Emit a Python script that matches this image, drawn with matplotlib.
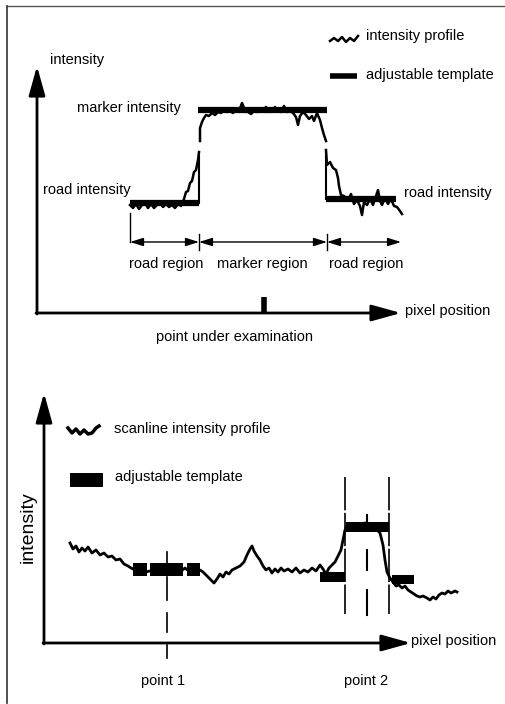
import matplotlib.pyplot as plt

plt.rcParams['font.family'] = ['Liberation Sans', 'DejaVu Sans']

# -----------------------
# Data (pixel coords, y grows downward)
# -----------------------
# top panel: intensity profile, split in three pieces
top_road_l_x = [130, 133, 136, 139, 142, 145, 148, 151, 154, 157, 160, 163, 166, 169, 172, 175, 178, 181, 184, 186, 188, 190, 192, 194, 196, 198, 199]
top_road_l_y = [205, 208, 204, 209, 205, 203, 208, 204, 208, 205, 203, 207, 204, 207, 205, 208, 204, 206, 199, 192, 191, 183, 181, 172, 170, 160, 152]
top_marker_x = [200, 200, 202, 204, 206, 209, 212, 215, 218, 221, 224, 227, 230, 233, 236, 239, 242, 245, 248, 251, 254, 257, 260, 263, 266, 269, 272, 275, 278, 281, 284, 287, 290, 293, 296, 298, 300, 303, 306, 309, 312, 314, 317, 320, 322, 324, 326]
top_marker_y = [141, 128, 122, 118, 115, 116, 113, 115, 112, 113, 110, 112, 111, 113, 110, 111, 103, 110, 112, 114, 111, 112, 110, 111, 107, 112, 111, 107, 111, 112, 106, 112, 111, 113, 117, 125, 116, 112, 115, 119, 116, 121, 113, 120, 128, 135, 141]
top_road_r_x = [326, 327, 330, 333, 336, 338, 339, 341, 344, 348, 351, 354, 357, 360, 362, 364, 367, 370, 373, 376, 378, 380, 382, 385, 388, 391, 394, 397, 400, 402]
top_road_r_y = [150, 165, 162, 168, 170, 178, 186, 195, 196, 200, 194, 204, 200, 206, 215, 202, 205, 199, 205, 196, 190, 201, 205, 198, 204, 199, 206, 207, 211, 214]

# top panel: adjustable template (x start, x end, level)
top_tpl_x0 = [130, 198, 326]
top_tpl_x1 = [199, 327, 396]
top_tpl_y = [203, 110, 199]

# bottom panel: scanline intensity profile
bot_x = [70, 73, 76, 79, 82, 85, 88, 92, 96, 100, 104, 108, 112, 116, 120, 124, 128, 131, 135, 140, 145, 150, 155, 160, 165, 170, 175, 180, 185, 190, 195, 200,
         203, 207, 211, 214, 217, 220, 223, 226, 229, 232, 236, 240, 244, 247, 250, 252, 254, 257, 260, 263, 266, 269, 272, 275, 278, 281, 284, 288,
         292, 296, 300, 304, 308, 312, 316, 320, 323, 326, 329, 332, 335, 338, 341, 343, 345, 347, 350, 355, 360, 365, 370, 375, 378, 380, 383, 385,
         387, 390, 393, 396, 399, 402, 405, 408, 411, 414, 417, 420, 423, 427, 430, 433, 436, 439, 442, 445, 448, 451, 455, 457]
bot_y = [543, 549, 546, 552, 548, 551, 547, 553, 550, 555, 553, 557, 556, 560, 559, 564, 566, 568, 570, 569, 572, 571, 568, 570, 567, 571, 569, 572, 568, 572, 569, 570,
         572, 576, 580, 583, 579, 574, 577, 572, 574, 570, 568, 566, 562, 555, 549, 546, 551, 556, 560, 566, 570, 568, 573, 569, 572, 568, 571, 569,
         572, 568, 573, 570, 572, 568, 571, 565, 569, 574, 568, 565, 562, 556, 550, 540, 530, 526, 524, 525, 524, 523, 525, 527, 531, 533, 545, 560,
         572, 578, 582, 586, 585, 588, 586, 590, 592, 594, 596, 597, 596, 598, 600, 597, 599, 595, 593, 594, 591, 593, 591, 592]

# bottom panel: template blocks (x start, x end, top, bottom)
bot_tpl_x0 = [133, 150, 187, 320, 346, 392]
bot_tpl_x1 = [147, 183, 200, 345, 389, 414]
bot_tpl_y0 = [563, 563, 563, 572, 522, 575]
bot_tpl_y1 = [576, 576, 576, 582, 532, 584]

fig = plt.figure(figsize=(5.05, 7.04), dpi=100)
ax = fig.add_axes([0, 0, 1, 1])
ax.set_xlim(0, 505)
ax.set_ylim(704, 0)
ax.axis('off')

fs = 10.5
arrow = dict(arrowstyle='-|>,head_length=1.8,head_width=0.5', lw=2, color='black', shrinkA=0, shrinkB=0)

# page border
ax.plot([7, 505], [6, 6], color='#555555', lw=1)
ax.plot([7, 7], [6, 703], color='#333333', lw=1.2)

# -----------------------
# top panel
# -----------------------
ax.annotate('', xy=(37, 66), xytext=(37, 314), arrowprops=arrow)
ax.annotate('', xy=(401, 313), xytext=(36, 313), arrowprops=arrow)
ax.text(50, 60, 'intensity', fontsize=fs, va='center')
ax.text(405, 311, 'pixel position', fontsize=fs, va='center')

for x0, x1, y in zip(top_tpl_x0, top_tpl_x1, top_tpl_y):
    ax.plot([x0, x1], [y, y], color='black', lw=4.5, solid_capstyle='butt')
ax.plot([199, 199], [top_tpl_y[0], 153], color='black', lw=1.5)
ax.plot([326, 326], [152, top_tpl_y[2]], color='black', lw=1.5)

ax.plot(top_road_l_x, top_road_l_y, color='black', lw=1.8)
ax.plot(top_marker_x, top_marker_y, color='black', lw=1.8)
ax.plot(top_road_r_x, top_road_r_y, color='black', lw=1.8)

ax.text(77, 108, 'marker intensity', fontsize=fs, va='center')
ax.text(43, 190, 'road intensity', fontsize=fs, va='center')
ax.text(404, 193, 'road intensity', fontsize=fs, va='center')

# region arrows
ax.plot([130, 130], [213, 242], color='black', lw=1)
dbl = dict(arrowstyle='<|-|>,head_length=0.8,head_width=0.25', lw=1, color='black', shrinkA=0, shrinkB=0)
for a, b in [(130, 199), (199, 327), (327, 401)]:
    ax.annotate('', xy=(b, 242), xytext=(a, 242), arrowprops=dbl)
ax.plot([199, 199], [234, 250], color='black', lw=1)
ax.plot([327, 327], [234, 250], color='black', lw=1)
ax.text(166, 264, 'road region', fontsize=fs, ha='center', va='center')
ax.text(262, 264, 'marker region', fontsize=fs, ha='center', va='center')
ax.text(366, 264, 'road region', fontsize=fs, ha='center', va='center')

ax.plot([264, 264], [297, 313], color='black', lw=4, solid_capstyle='butt')
ax.text(235, 337, 'point under examination', fontsize=fs, ha='center', va='center')

# legend top
ax.plot([330, 334, 338, 342, 346, 350, 354, 358], [41, 38, 41, 37, 42, 38, 41, 36], color='black', lw=1.8)
ax.text(366, 36, 'intensity profile', fontsize=fs, va='center')
ax.plot([330, 357], [76, 76], color='black', lw=4, solid_capstyle='butt')
ax.text(366, 75, 'adjustable template', fontsize=fs, va='center')

# -----------------------
# bottom panel
# -----------------------
ax.annotate('', xy=(44, 393), xytext=(44, 644), arrowprops=arrow)
ax.annotate('', xy=(411, 643), xytext=(43, 643), arrowprops=arrow)
ax.text(411, 641, 'pixel position', fontsize=fs, va='center')
ax.text(28, 527, 'intensity', fontsize=14, rotation=90, ha='center', va='center')

ax.plot(bot_x, bot_y, color='black', lw=2)
for x0, x1, y0, y1 in zip(bot_tpl_x0, bot_tpl_x1, bot_tpl_y0, bot_tpl_y1):
    ax.fill_between([x0, x1], y0, y1, color='black', lw=0)

# point 1 dashed marker
for y0, y1 in [(552, 563), (577, 600), (613, 632), (645, 658)]:
    ax.plot([167, 167], [y0, y1], color='black', lw=1.2)
# point 2 window
for xv in [345, 389]:
    ax.plot([xv, xv], [477, 614], color='black', lw=1.2, dashes=(20, 1.5))
for y0, y1 in [(515, 525), (550, 570), (590, 615)]:
    ax.plot([367, 367], [y0, y1], color='black', lw=1.5)

ax.text(163, 681, 'point 1', fontsize=fs, ha='center', va='center')
ax.text(366, 681, 'point 2', fontsize=fs, ha='center', va='center')

# legend bottom
ax.plot([68, 72, 76, 80, 84, 88, 92, 96, 99], [428, 433, 429, 434, 430, 434, 433, 428, 426], color='black', lw=2.5)
ax.text(114, 429, 'scanline intensity profile', fontsize=fs, va='center')
ax.fill_between([70, 103], 473, 487, color='black', lw=0)
ax.text(115, 477, 'adjustable template', fontsize=fs, va='center')

fig.savefig('out.png', dpi=100)
